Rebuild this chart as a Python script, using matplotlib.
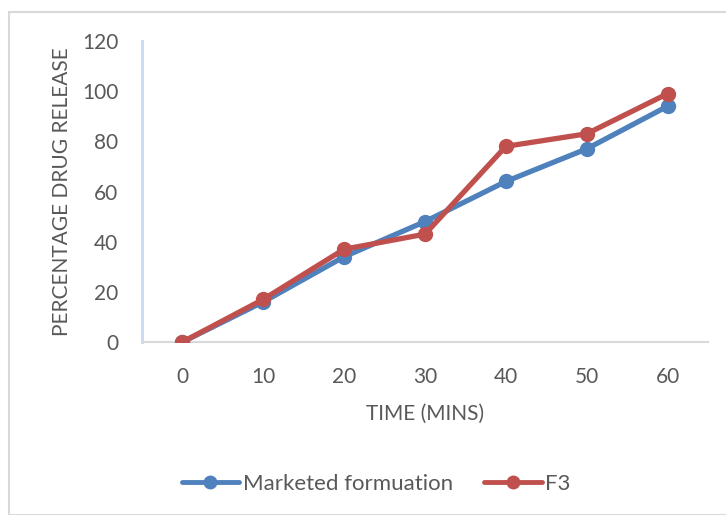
import matplotlib
matplotlib.use("Agg")
import matplotlib.pyplot as plt
from matplotlib.lines import Line2D
from matplotlib.patches import Rectangle

times = ["0", "10", "20", "30", "40", "50", "60"]
marketed = [0, 16, 34, 48, 64, 77, 94]
f3 = [0, 17, 37, 43, 78, 83, 99]
yticks = [0, 20, 40, 60, 80, 100, 120]

plt.rcParams['font.family'] = ['Lato', 'DejaVu Sans']
W, H = 726, 515
fig = plt.figure(figsize=(W/100, H/100), dpi=100)

# outer chart border
fig.patches.append(Rectangle((9/W, 0), 1, 1 - 11.5/H, transform=fig.transFigure,
                             fill=False, edgecolor='#D9D9D9', linewidth=1.5))

ax = fig.add_axes([142/W, 1 - 342/H, (708-142)/W, (342-41)/H])
x = list(range(len(times)))
blue = '#4F81BD'
red = '#C0504D'
ax.plot(x, marketed, color=blue, lw=3.8, marker='o', ms=10, label='Marketed formuation',
        solid_capstyle='round', zorder=3)
ax.plot(x, f3, color=red, lw=3.8, marker='o', ms=10, label='F3',
        solid_capstyle='round', zorder=4)

ax.set_xlim(-0.5, len(times) - 0.5)
ax.set_ylim(0, 120)
ax.set_xticks(x)
ax.set_xticklabels(times)
ax.set_yticks(yticks)
ax.tick_params(axis='both', length=0, labelsize=15, colors='#595959')
ax.tick_params(axis='y', pad=17)
ax.tick_params(axis='x', pad=18)
for s in ['top', 'right']:
    ax.spines[s].set_visible(False)
ax.spines['left'].set_color('#C6D9F0')
ax.spines['left'].set_linewidth(2)
ax.spines['bottom'].set_color('#D9D9D9')
ax.spines['bottom'].set_linewidth(1.5)

ax.set_xlabel('TIME (MINS)', fontsize=15, color='#595959', labelpad=12)
ax.set_ylabel('PERCENTAGE DRUG RELEASE', fontsize=15, color='#595959', labelpad=7)

leg = fig.legend(loc='center', bbox_to_anchor=(376/W, 1 - 484/H), ncol=2, frameon=False,
                 fontsize=16, handlelength=2.6, columnspacing=1.4, handletextpad=0.15)
for t in leg.get_texts():
    t.set_color('#595959')
for h in leg.legend_handles:
    h.set_markersize(9)
    h.set_linewidth(3.5)

fig.savefig('out.png', dpi=100)
